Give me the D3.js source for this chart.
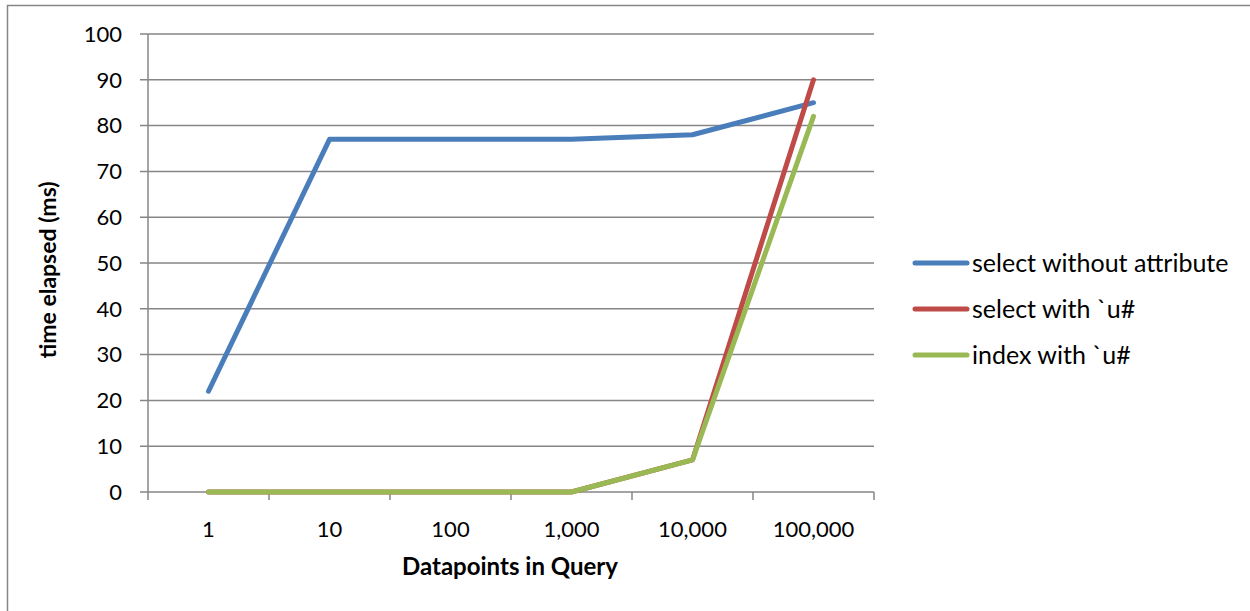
<!DOCTYPE html>
<html>
<head>
<meta charset="utf-8">
<script src="https://cdn.jsdelivr.net/npm/d3@7"></script>
<style>
  body { margin: 0; background: #fff; }
  svg text { font-family: Lato, "Open Sans", sans-serif; fill: #000; }
</style>
</head>
<body>
<svg id="chart" width="1250" height="611"></svg>
<script>
// categories and series
const categories = ['1', '10', '100', '1,000', '10,000', '100,000'];
const selectWithout = [22, 77, 77, 77, 78, 85];
const selectWithU = [0, 0, 0, 0, 7, 90];
const indexWithU = [0, 0, 0, 0, 7, 82];
const seriesNames = ['select without attribute', 'select with `u#', 'index with `u#'];
const seriesColors = ['#4a7ebb', '#be4b48', '#98b954'];
const yTicks = [0, 10, 20, 30, 40, 50, 60, 70, 80, 90, 100];

const series = [selectWithout, selectWithU, indexWithU];

const svg = d3.select('#chart');

// outer frame, runs off the right and bottom edges
svg.append('rect')
  .attr('x', 7.5).attr('y', 5.5)
  .attr('width', 1300).attr('height', 700)
  .attr('fill', 'none').attr('stroke', '#868686').attr('stroke-width', 1.5);

const plotLeft = 148, plotRight = 874, plotTop = 34, plotBottom = 492;

const x = d3.scaleBand().domain(categories).range([plotLeft, plotRight]);
const y = d3.scaleLinear().domain([0, 100]).range([plotBottom, plotTop]);

// gridlines
svg.append('g')
  .selectAll('line')
  .data(yTicks)
  .enter()
  .append('line')
  .attr('x1', plotLeft - 8).attr('x2', plotRight)
  .attr('y1', function (d) { return y(d); })
  .attr('y2', function (d) { return y(d); })
  .attr('stroke', '#868686').attr('stroke-width', 1.5);

// y axis line
svg.append('line')
  .attr('x1', plotLeft).attr('x2', plotLeft)
  .attr('y1', plotTop).attr('y2', plotBottom)
  .attr('stroke', '#868686').attr('stroke-width', 1.5);

// x tick marks at band edges
const edges = categories.map(function (c) { return x(c); }).concat([plotRight]);
svg.append('g')
  .selectAll('line')
  .data(edges)
  .enter()
  .append('line')
  .attr('x1', function (d) { return d; }).attr('x2', function (d) { return d; })
  .attr('y1', plotBottom).attr('y2', plotBottom + 8)
  .attr('stroke', '#868686').attr('stroke-width', 1.5);

// y labels
svg.append('g')
  .selectAll('text')
  .data(yTicks)
  .enter()
  .append('text')
  .attr('x', 122)
  .attr('y', function (d) { return y(d); })
  .attr('dy', '0.35em')
  .attr('text-anchor', 'end')
  .style('font-size', '22px')
  .text(function (d) { return d; });

// x labels
svg.append('g')
  .selectAll('text')
  .data(categories)
  .enter()
  .append('text')
  .attr('x', function (d) { return x(d) + x.bandwidth() / 2; })
  .attr('y', 537)
  .attr('text-anchor', 'middle')
  .style('font-size', '22px')
  .text(function (d) { return d; });

// axis titles
svg.append('text')
  .attr('x', 510).attr('y', 575)
  .attr('text-anchor', 'middle')
  .style('font-size', '24px').style('font-weight', 'bold')
  .text('Datapoints in Query');

svg.append('text')
  .attr('transform', 'translate(56,' + 270 + ') rotate(-90)')
  .attr('text-anchor', 'middle')
  .style('font-size', '23px').style('font-weight', 'bold')
  .text('time elapsed (ms)');

// series lines
const line = d3.line()
  .x(function (d, i) { return x(categories[i]) + x.bandwidth() / 2; })
  .y(function (d) { return y(d); });

series.forEach(function (s, i) {
  svg.append('path')
    .datum(s)
    .attr('d', line)
    .attr('fill', 'none')
    .attr('stroke', seriesColors[i])
    .attr('stroke-width', 5)
    .attr('stroke-linecap', 'round')
    .attr('stroke-linejoin', 'round');
});

// legend
const legend = svg.append('g')
  .selectAll('g')
  .data(seriesNames)
  .enter()
  .append('g')
  .attr('transform', function (d, i) { return 'translate(0,' + (263 + i * 46) + ')'; });

legend.append('line')
  .attr('x1', 915).attr('x2', 967)
  .attr('y1', 0).attr('y2', 0)
  .attr('stroke', function (d, i) { return seriesColors[i]; })
  .attr('stroke-width', 5)
  .attr('stroke-linecap', 'round');

legend.append('text')
  .attr('x', 972).attr('y', 0).attr('dy', '0.35em')
  .style('font-size', '25px')
  .text(function (d) { return d; });
</script>
</body>
</html>
